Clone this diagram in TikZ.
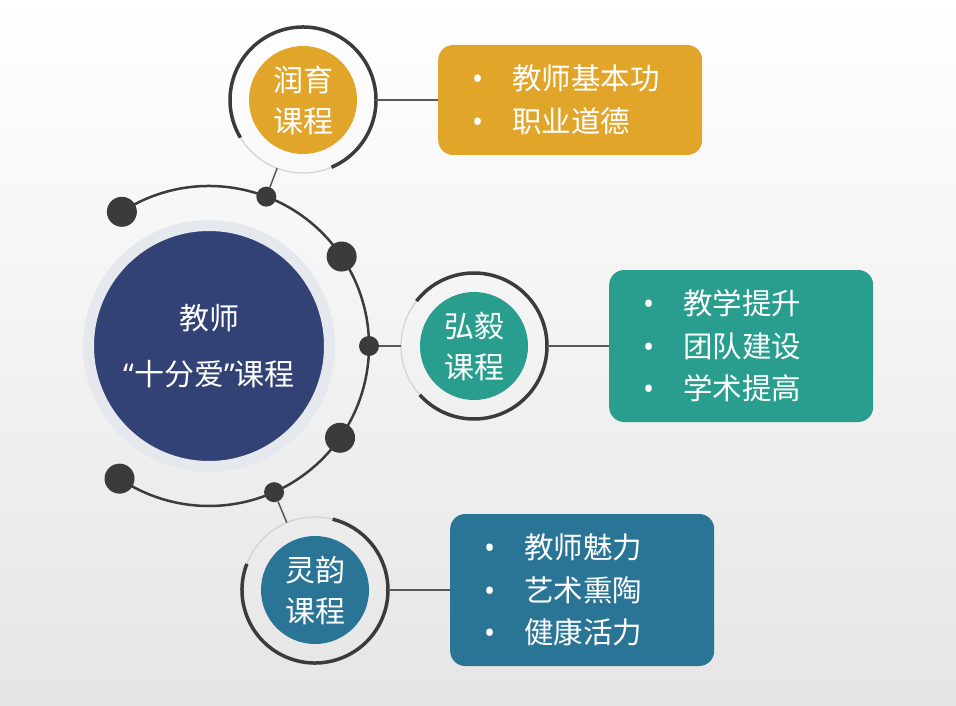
\documentclass[tikz,border=0pt]{standalone}
\usepackage{fontspec}
\setmainfont{Noto Sans CJK SC}
\newfontfamily\latinfont{Noto Sans}
\usetikzlibrary{positioning, calc}

\definecolor{goldc}{HTML}{E1A52A}
\definecolor{tealc}{HTML}{299D8E}
\definecolor{bluec}{HTML}{2A7596}
\definecolor{navyc}{HTML}{334275}
\definecolor{darkc}{HTML}{3B3B3B}
\definecolor{haloc}{HTML}{E5E8ED}

\newcommand{\bul}{\makebox[40pt][l]{\latinfont •}}

\tikzset{
  bigdot/.style={circle, fill=darkc, minimum size=30pt, inner sep=0pt},
  smalldot/.style={circle, fill=darkc, minimum size=20pt, inner sep=0pt},
  course/.style={circle, minimum size=108pt, inner sep=0pt, outer sep=19pt,
                 text=white, align=center, font=\fontsize{30}{41}\selectfont},
  itembox/.style={rounded corners=15pt, text=white, align=left, text width=196pt,
                  inner xsep=34pt, inner ysep=0pt, minimum height=#1,
                  font=\fontsize{29.5}{42.5}\selectfont},
  ringlight/.style={draw=gray!35, line width=1.2pt},
  ringdark/.style={draw=darkc, line width=3.5pt},
  link/.style={draw=darkc!85, line width=1.5pt},
}

\begin{document}
\begin{tikzpicture}[x=1pt, y=-1pt]
  % background
  \shade[top color=white, middle color=gray!5, bottom color=gray!20]
    (0,0) rectangle (956,706);
  \useasboundingbox (0,0) rectangle (956,706);

  % centre
  \node[circle, fill=navyc, draw=haloc, line width=11pt, minimum size=241pt,
        inner sep=0pt, text=white, align=center, font=\fontsize{30}{56}\selectfont]
    (hub) at (209,346) {教师\\{\latinfont “}十分爱{\latinfont ”}课程};

  \draw[darkc, line width=2.5pt] ($(hub)+(-123:160)$)
    arc[start angle=-123, end angle=124, radius=160];

  \foreach \a/\s [count=\i] in {-123/bigdot, -69/smalldot, -34/bigdot, 0/smalldot,
                                35/bigdot, 66/smalldot, 124/bigdot}
    \node[\s] (d\i) at ($(hub)+(\a:160)$) {};

  % courses
  \node[course, fill=goldc] (run) at (303,100) {润育\\课程};
  \node[course, fill=tealc] (hong) at (474,346) {弘毅\\课程};
  \node[course, fill=bluec] (ling) at (315,590) {灵韵\\课程};

  \draw[ringlight] (run.center) circle[radius=73];
  \draw[ringdark] ($(run.center)+(67:73)$) arc[start angle=67, end angle=-211, radius=73];
  \draw[ringlight] (hong.center) circle[radius=73];
  \draw[ringdark] ($(hong.center)+(138:73)$) arc[start angle=138, end angle=-142, radius=73];
  \draw[ringlight] (ling.center) circle[radius=73];
  \draw[ringdark] ($(ling.center)+(201:73)$) arc[start angle=201, end angle=-76, radius=73];

  \draw[link] (d2) -- (run);
  \draw[link] (d4) -- (hong);
  \draw[link] (d6) -- (ling);

  % item boxes
  \node[itembox=110pt, fill=goldc, right=62pt of run] (runbox)
    {\bul 教师基本功\\\bul 职业道德};
  \node[itembox=152pt, fill=tealc, right=62pt of hong] (hongbox)
    {\bul 教学提升\\\bul 团队建设\\\bul 学术提高};
  \node[itembox=152pt, fill=bluec, right=62pt of ling] (lingbox)
    {\bul 教师魅力\\\bul 艺术熏陶\\\bul 健康活力};

  \draw[link] (run) -- (runbox);
  \draw[link] (hong) -- (hongbox);
  \draw[link] (ling) -- (lingbox);
\end{tikzpicture}
\end{document}
